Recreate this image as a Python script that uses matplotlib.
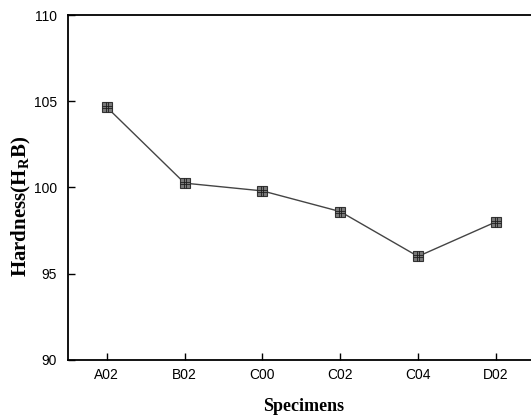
import matplotlib.pyplot as plt
from matplotlib.path import Path

specimens = ['A02', 'B02', 'C00', 'C02', 'C04', 'D02']
hardness = [104.65, 100.25, 99.8, 98.6, 96.0, 98.0]

plt.rcParams['font.family'] = 'Liberation Sans'
plt.rcParams['mathtext.fontset'] = 'custom'
plt.rcParams['mathtext.rm'] = 'Liberation Serif'
plt.rcParams['mathtext.bf'] = 'Liberation Serif:bold'

fig = plt.figure(figsize=(5.31, 4.17), dpi=100)
ax = fig.add_axes([0.128, 0.137, 0.879, 0.827])

x = range(len(specimens))
ax.plot(x, hardness, color='#444444', linewidth=1.0, zorder=2)
ax.plot(x, hardness, linestyle='none', marker='s', markersize=6.5,
        markerfacecolor='#7a7a7a', markeredgecolor='#333333',
        markeredgewidth=0.8, zorder=3)

# grid pattern on the square markers
grid = Path([(-1, -0.33), (1, -0.33), (-1, 0.33), (1, 0.33),
             (-0.33, -1), (-0.33, 1), (0.33, -1), (0.33, 1)],
            [Path.MOVETO, Path.LINETO] * 4)
ax.plot(x, hardness, linestyle='none', marker=grid, markersize=6.5,
        markeredgecolor='#1e1e1e', markeredgewidth=0.6, zorder=4)

ax.set_xlim(-0.5, 5.5)
ax.set_ylim(90, 110)
ax.set_xticks(list(x))
ax.set_xticklabels(specimens)
ax.set_yticks([90, 95, 100, 105, 110])

ax.tick_params(direction='in', length=5, width=1, labelsize=10, pad=6)
ax.tick_params(axis='y', pad=8)
ax.spines['right'].set_visible(False)
for s in ['left', 'top', 'bottom']:
    ax.spines[s].set_linewidth(1.3)

ax.set_xlabel('Specimens', fontsize=13, fontweight='bold',
              family='Liberation Serif')
ax.set_ylabel('Hardness(H$_\\mathbf{R}$B)', fontsize=15, fontweight='bold',
              family='Liberation Serif')
ax.xaxis.set_label_coords(0.505, -0.112)
ax.yaxis.set_label_coords(-0.075, 0.446)

fig.savefig('out.png', dpi=100)
